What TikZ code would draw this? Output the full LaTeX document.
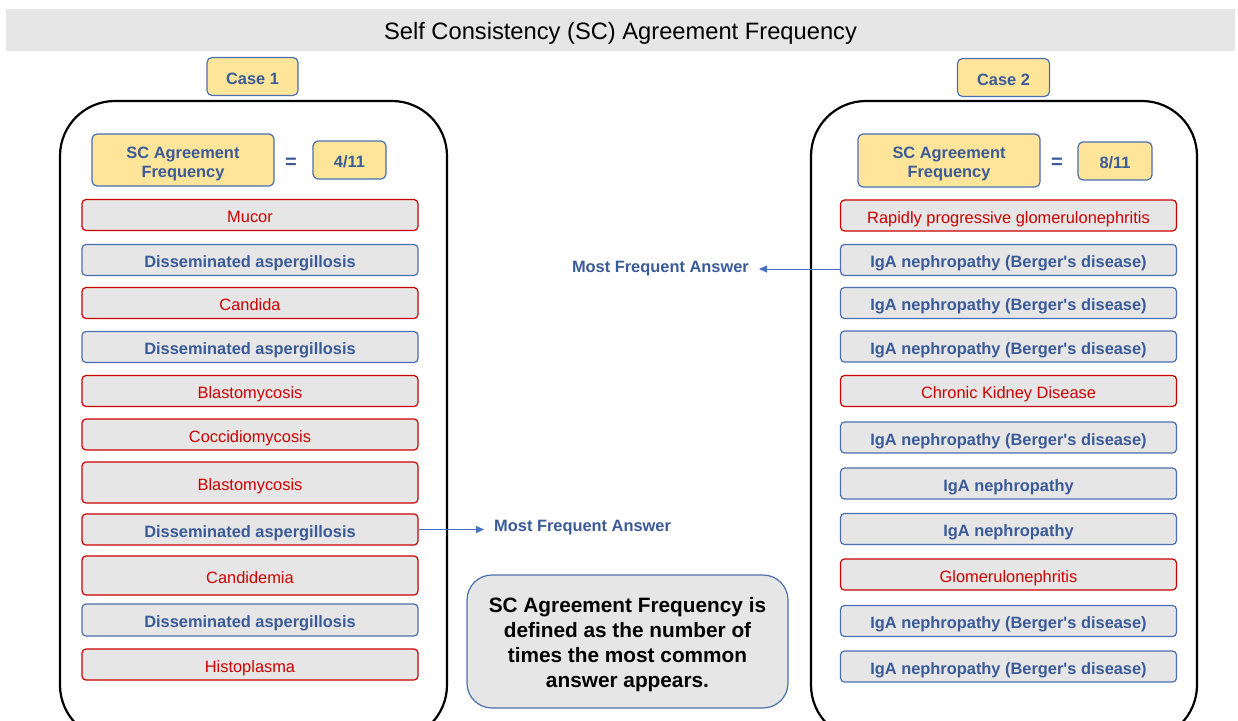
\documentclass[tikz,border=0pt]{standalone}
\usepackage{fontspec}
\setmainfont{Liberation Sans}[Ligatures=TeXOff]
\usetikzlibrary{arrows.meta}
\definecolor{bblue}{HTML}{4A6FB0}
\definecolor{tblue}{HTML}{3A5A98}
\definecolor{rred}{HTML}{CC0000}
\definecolor{gfill}{HTML}{E6E6E6}
\definecolor{yfill}{HTML}{FFE599}
\definecolor{ablue}{HTML}{4472C4}
\begin{document}
\begin{tikzpicture}[x=1pt,y=-1pt,
  item/.style={draw, fill=gfill, rounded corners=4pt, minimum width=336pt, minimum height=31pt, inner sep=0pt, line width=1.2pt, text height=19pt, text depth=4pt},
  redbox/.style={item, draw=rred, text=rred, font=\fontsize{16.4}{19}\selectfont},
  bluebox/.style={item, draw=bblue, text=tblue, font=\fontsize{16.4}{19}\selectfont\bfseries},
  mixbox/.style={item, draw=rred, text=tblue, font=\fontsize{16.4}{19}\selectfont\bfseries},
  ybox/.style={draw=bblue, fill=yfill, rounded corners=5pt, inner sep=0pt, line width=1.2pt, text=tblue, font=\fontsize{16.4}{19}\selectfont\bfseries},
  ylbl/.style={ybox, text height=19pt, text depth=4pt},
  ytext/.style={text=tblue, inner sep=0pt, align=center, font=\fontsize{16.4}{19}\selectfont\bfseries},
  bigbox/.style={draw=black, line width=2.2pt, rounded corners=55pt},
  eqsign/.style={text=tblue, font=\fontsize{20}{22}\selectfont\bfseries},
  lbl/.style={text=tblue, inner sep=0pt, text height=19pt, text depth=4pt, font=\fontsize{16.4}{19}\selectfont\bfseries},
  arr/.style={draw=ablue, line width=0.9pt, -{Triangle[length=8pt,width=7pt]}, shorten >=10pt}
]
\useasboundingbox (0,0) rectangle (1238,720);
\clip (0,0) rectangle (1238,720);
\fill[white] (0,0) rectangle (1238,720);

% title
\node[fill=gfill, minimum width=1229pt, minimum height=42pt, inner sep=0pt,
      text height=23pt, text depth=4.4pt,
      font=\fontsize{23.7}{26}\selectfont] (title) at (620.5,30) {Self Consistency (SC) Agreement Frequency};

% case labels
\node[ylbl, minimum width=91pt, minimum height=38pt] (case1) at (252.5,76.5) {Case 1};
\node[ylbl, minimum width=92pt, minimum height=38pt] (case2) at (1003.5,77.5) {Case 2};

% big containers
\draw[bigbox] (60,101) rectangle (447,740);
\draw[bigbox] (811,101) rectangle (1197,740);

% case 1 header
\node[ybox, minimum width=182pt, minimum height=52pt] (sc1) at (183,160) {};
\node[ytext] (sc1t) at (183,163.5) {SC Agreement\\Frequency};
\node[eqsign] (eq1) at (291,163) {=};
\node[ylbl, minimum width=73pt, minimum height=38pt] (f1) at (349.5,160) {4/11};

% case 2 header
\node[ybox, minimum width=182pt, minimum height=53pt] (sc2) at (949,160.5) {};
\node[ytext] (sc2t) at (949,164) {SC Agreement\\Frequency};
\node[eqsign] (eq2) at (1057,163) {=};
\node[ylbl, minimum width=74pt, minimum height=38pt] (f2) at (1115,161) {8/11};

% case 1 list
\node[redbox]  (L1)  at (250,215)   {Mucor};
\node[bluebox] (L2)  at (250,260)   {Disseminated aspergillosis};
\node[redbox]  (L3)  at (250,303)   {Candida};
\node[bluebox] (L4)  at (250,347)   {Disseminated aspergillosis};
\node[redbox]  (L5)  at (250,391)   {Blastomycosis};
\node[redbox]  (L6)  at (250,434.5) {Coccidiomycosis};
\node[redbox, minimum height=41pt] (L7) at (250,482.5) {Blastomycosis};
\node[mixbox]  (L8)  at (250,529.5) {Disseminated aspergillosis};
\node[redbox, minimum height=39pt] (L9) at (250,575.5) {Candidemia};
\node[bluebox, minimum height=32pt] (L10) at (250,620) {Disseminated aspergillosis};
\node[redbox]  (L11) at (250,664.5) {Histoplasma};

% case 2 list
\node[redbox]  (R1)  at (1008.5,215.5) {Rapidly progressive glomerulonephritis};
\node[bluebox] (R2)  at (1008.5,260)   {IgA nephropathy (Berger's disease)};
\node[bluebox] (R3)  at (1008.5,303)   {IgA nephropathy (Berger's disease)};
\node[bluebox] (R4)  at (1008.5,346.5) {IgA nephropathy (Berger's disease)};
\node[redbox]  (R5)  at (1008.5,391)   {Chronic Kidney Disease};
\node[bluebox] (R6)  at (1008.5,437.5) {IgA nephropathy (Berger's disease)};
\node[bluebox] (R7)  at (1008.5,483.5) {IgA nephropathy};
\node[bluebox] (R8)  at (1008.5,529)   {IgA nephropathy};
\node[redbox]  (R9)  at (1008.5,574.5) {Glomerulonephritis};
\node[bluebox] (R10) at (1008.5,621)   {IgA nephropathy (Berger's disease)};
\node[bluebox] (R11) at (1008.5,666.5) {IgA nephropathy (Berger's disease)};

% most frequent answer labels
\node[lbl, anchor=west] (mfa1) at (494,523.5) {Most Frequent Answer};
\node[lbl, anchor=east] (mfa2) at (749,264.8) {Most Frequent Answer};
\draw[arr] (L8.east) -- (L8.east -| mfa1.west);
\draw[arr] ([yshift=-9pt]R2.west) -- ([yshift=-9pt]R2.west -| mfa2.east);

% definition box
\node[draw=bblue, fill=gfill, line width=1.2pt, rounded corners=25pt,
      minimum width=321pt, minimum height=133pt, inner sep=0pt] (def) at (627.5,641.5) {};
\node[inner sep=0pt, align=center, font=\fontsize{20.8}{25}\selectfont\bfseries] (deft) at (627.5,644.5)
  {SC Agreement Frequency is\\defined as the number of\\times the most common\\answer appears.};
\end{tikzpicture}
\end{document}
